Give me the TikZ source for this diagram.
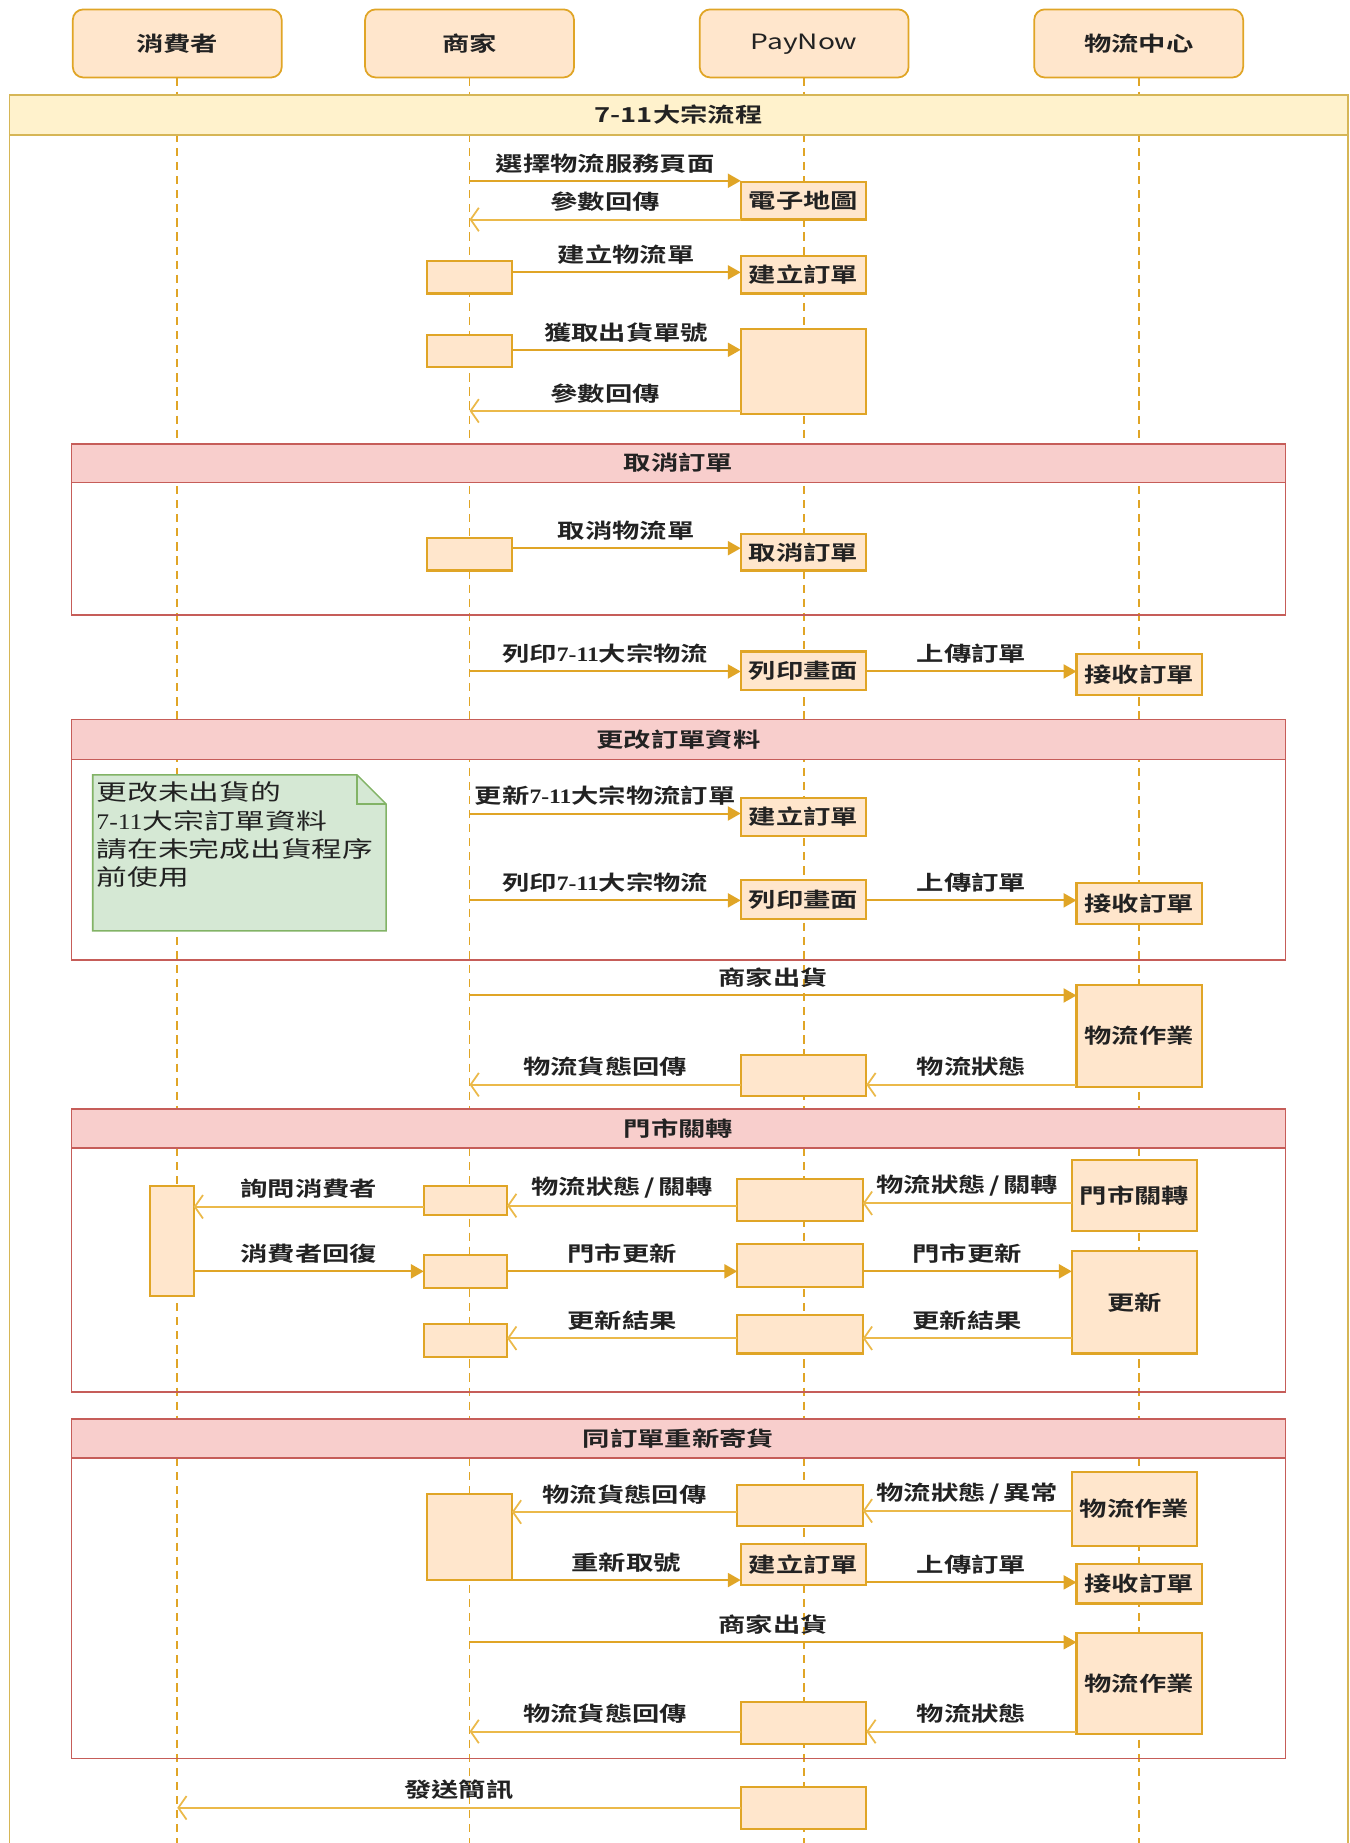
\documentclass[tikz,border=0pt]{standalone}
\usepackage{fontspec}
\usetikzlibrary{arrows.meta}
\newfontfamily\lblfont[FakeStretch=1.33,BoldFont={Noto Sans CJK TC Bold}]{Noto Sans CJK TC}
\newfontfamily\notefont[FakeStretch=1.38]{Noto Sans CJK TC}
\newfontfamily\latn[FakeStretch=1.15]{Liberation Serif}
\newcommand\sev{{\latn 7-11}}
\definecolor{gold}{HTML}{E0A526}
\definecolor{goldret}{HTML}{EBB94A}
\definecolor{actfill}{HTML}{FFE6CC}
\definecolor{mainfill}{HTML}{FFF2CC}
\definecolor{mainline}{HTML}{D6B656}
\definecolor{pinkfill}{HTML}{F8CECC}
\definecolor{pinkline}{HTML}{C65D59}
\definecolor{notefill}{HTML}{D5E8D4}
\definecolor{noteline}{HTML}{82B366}
\definecolor{ink}{HTML}{222222}
\newcommand\bx[7]{\node[#1, minimum width={(#5)-(#3)}, minimum height={(#6)-(#4)}] (#2) at ({((#3)+(#5))/2},{((#4)+(#6))/2}) {#7};}
\begin{document}
\begin{tikzpicture}[x=1pt,y=-1pt,
 lf/.style={font=\lblfont\bfseries\fontsize{17.5}{20}\selectfont, text=ink},
 act/.style={lf, draw=gold, fill=actfill, line width=1.8pt, inner sep=0pt, outer sep=0pt},
 head/.style={act, rounded corners=9pt, line width=1.5pt},
 life/.style={draw=gold, line width=1.5pt, dash pattern=on 7pt off 5pt},
 call/.style={draw=gold, line width=1.7pt, -{Triangle[length=11pt,width=12pt]}},
 ret/.style={draw=goldret, line width=1.7pt, -{Straight Barb[length=7pt,width=20pt,line width=1.5pt]}},
 lbl/.style={lf, inner sep=0pt, midway, yshift=15pt},
 frm/.style={draw=pinkline, line width=1.5pt, inner sep=0pt, outer sep=0pt},
 fhdr/.style={lf, draw=pinkline, fill=pinkfill, line width=1.5pt, inner sep=0pt, outer sep=0pt},
 mhdr/.style={lf, draw=mainline, fill=mainfill, line width=1.5pt, inner sep=0pt, outer sep=0pt},
]
\useasboundingbox (0,0) rectangle (1150,1570);
% heads
\bx{head}{hC}{62}{8}{240}{66}{消費者}
\bx{head}{hM}{311}{8}{489}{66}{商家}
\bx{head, font=\lblfont\fontsize{18}{20}\selectfont, text depth=0pt, text height=10pt}{hP}{596}{8}{774}{66}{PayNow}
\bx{head}{hL}{881}{8}{1059}{66}{物流中心}
% lifelines
\draw[life] (hC.south) -- (hC.south |- 0,1575);
\draw[life] (hM.south) -- (hM.south |- 0,1575);
\draw[life] (hP.south) -- (hP.south |- 0,1575);
\draw[life] (hL.south) -- (hL.south |- 0,1575);
% main frame
\node[draw=mainline, line width=1.5pt, inner sep=0pt, outer sep=0pt, minimum width=1140, minimum height=1540, anchor=north west] (main) at (8,81) {};
\bx{mhdr}{mainh}{8}{81}{1148}{115}{7-11大宗流程}
% part 1
\coordinate (m1) at (400,154);
\bx{act}{pz1}{631}{155}{738}{187}{電子地圖}
\draw[call] (m1) -- (pz1.west |- m1) node[lbl]{選擇物流服務頁面};
\draw[ret] (pz1.south west) -- (pz1.south west -| m1) node[lbl]{參數回傳};
\bx{act}{mb2}{364}{222}{436}{250}{}
\bx{act}{pz2}{631}{218}{738}{250}{建立訂單}
\draw[call] (mb2.east |- 0,232) -- (pz2.west |- 0,232) node[lbl]{建立物流單};
\bx{act}{mb3}{364}{285}{436}{313}{}
\bx{act}{pz3}{631}{280}{738}{353}{}
\draw[call] (mb3.east |- 0,298) -- (pz3.west |- 0,298) node[lbl]{獲取出貨單號};
\draw[ret] (pz3.west |- 0,350) -- (hM.south |- 0,350) node[lbl]{參數回傳};
% 取消訂單
\node[frm, minimum width=1034, minimum height=146, anchor=north west] (f1) at (61,378) {};
\bx{fhdr}{f1h}{61}{378}{1095}{411}{取消訂單}
\bx{act}{mb4}{364}{458}{436}{486}{}
\bx{act}{pz4}{631}{455}{738}{486}{取消訂單}
\draw[call] (mb4.east |- 0,467) -- (pz4.west |- 0,467) node[lbl]{取消物流單};
% 列印
\bx{act}{pz5}{631}{555}{738}{588}{列印畫面}
\bx{act}{lc5}{917}{557}{1024}{592}{接收訂單}
\draw[call] (hM.south |- 0,572) -- (pz5.west |- 0,572) node[lbl]{列印\sev 大宗物流};
\draw[call] (pz5.east |- 0,572) -- (lc5.west |- 0,572) node[lbl]{上傳訂單};
% 更改訂單資料
\node[frm, minimum width=1034, minimum height=205, anchor=north west] (f2) at (61,613) {};
\bx{fhdr}{f2h}{61}{613}{1095}{647}{更改訂單資料}
\draw[draw=noteline, fill=notefill, line width=1.3pt] (79,660) -- (304,660) -- (329,685) -- (329,793) -- (79,793) -- cycle;
\draw[draw=noteline, line width=1.3pt] (304,660) -- (304,685) -- (329,685);
\node[font=\notefont\fontsize{19}{24}\selectfont, text=ink, align=left, anchor=north west, inner sep=0pt] (note) at (82,666) {更改未出貨的\\\sev 大宗訂單資料\\請在未完成出貨程序\\前使用};
\bx{act}{pz6}{631}{680}{738}{712}{建立訂單}
\draw[call] (hM.south |- 0,693) -- (pz6.west |- 0,693) node[lbl]{更新\sev 大宗物流訂單};
\bx{act}{pz7}{631}{750}{738}{783}{列印畫面}
\bx{act}{lc7}{917}{752}{1024}{787}{接收訂單}
\draw[call] (hM.south |- 0,767) -- (pz7.west |- 0,767) node[lbl]{列印\sev 大宗物流};
\draw[call] (pz7.east |- 0,767) -- (lc7.west |- 0,767) node[lbl]{上傳訂單};
% 商家出貨
\bx{act}{lc8}{917}{839}{1024}{926}{物流作業}
\draw[call] (hM.south |- 0,848) -- (lc8.west |- 0,848) node[lbl]{商家出貨};
\bx{act}{pz8}{631}{899}{738}{934}{}
\draw[ret] (lc8.west |- 0,924) -- (pz8.east |- 0,924) node[lbl]{物流狀態};
\draw[ret] (pz8.west |- 0,924) -- (hM.south |- 0,924) node[lbl]{物流貨態回傳};
% 門市關轉
\node[frm, minimum width=1034, minimum height=241, anchor=north west] (f3) at (61,945) {};
\bx{fhdr}{f3h}{61}{945}{1095}{978}{門市關轉}
\bx{act}{cc9}{128}{1010}{165}{1104}{}
\bx{act}{mb9}{361}{1010}{432}{1035}{}
\bx{act}{pz9}{628}{1004}{735}{1040}{}
\bx{act}{lc9}{913}{988}{1020}{1049}{門市關轉}
\draw[ret] (lc9.west |- 0,1025) -- (pz9.east |- 0,1025) node[lbl]{物流狀態\,/\,關轉};
\draw[ret] (pz9.west |- 0,1027) -- (mb9.east |- 0,1027) node[lbl]{物流狀態\,/\,關轉};
\draw[ret] (mb9.west |- 0,1028) -- (cc9.east |- 0,1028) node[lbl]{詢問消費者};
\bx{act}{mb10}{361}{1069}{432}{1097}{}
\bx{act}{pz10}{628}{1060}{735}{1096}{}
\bx{act}{lc10}{913}{1066}{1020}{1153}{更新}
\draw[call] (cc9.east |- 0,1083) -- (mb10.west |- 0,1083) node[lbl]{消費者回復};
\draw[call] (mb10.east |- 0,1083) -- (pz10.west |- 0,1083) node[lbl]{門市更新};
\draw[call] (pz10.east |- 0,1083) -- (lc10.west |- 0,1083) node[lbl]{門市更新};
\bx{act}{mb11}{361}{1128}{432}{1156}{}
\bx{act}{pz11}{628}{1120}{735}{1153}{}
\draw[ret] (lc10.west |- 0,1140) -- (pz11.east |- 0,1140) node[lbl]{更新結果};
\draw[ret] (pz11.west |- 0,1140) -- (mb11.east |- 0,1140) node[lbl]{更新結果};
% 同訂單重新寄貨
\node[frm, minimum width=1034, minimum height=289, anchor=north west] (f4) at (61,1209) {};
\bx{fhdr}{f4h}{61}{1209}{1095}{1242}{同訂單重新寄貨}
\bx{act}{mb12}{364}{1273}{436}{1346}{}
\bx{act}{pz12}{628}{1265}{735}{1300}{}
\bx{act}{lc12}{913}{1254}{1020}{1317}{物流作業}
\draw[ret] (lc12.west |- 0,1287) -- (pz12.east |- 0,1287) node[lbl]{物流狀態\,/\,異常};
\draw[ret] (pz12.west |- 0,1288) -- (mb12.east |- 0,1288) node[lbl]{物流貨態回傳};
\bx{act}{pz13}{631}{1315}{738}{1350}{建立訂單}
\bx{act}{lc13}{917}{1332}{1024}{1366}{接收訂單}
\draw[call] (mb12.south east) -- (pz13.west |- mb12.south east) node[lbl]{重新取號};
\draw[call] (pz13.east |- 0,1348) -- (lc13.west |- 0,1348) node[lbl]{上傳訂單};
\bx{act}{lc14}{917}{1391}{1024}{1477}{物流作業}
\draw[call] (hM.south |- 0,1399) -- (lc14.west |- 0,1399) node[lbl]{商家出貨};
\bx{act}{pz14}{631}{1450}{738}{1486}{}
\draw[ret] (lc14.west |- 0,1475) -- (pz14.east |- 0,1475) node[lbl]{物流狀態};
\draw[ret] (pz14.west |- 0,1475) -- (hM.south |- 0,1475) node[lbl]{物流貨態回傳};
% 發送簡訊
\bx{act}{pz15}{631}{1522}{738}{1558}{}
\draw[ret] (pz15.west |- 0,1540) -- (hC.south |- 0,1540) node[lbl]{發送簡訊};
\end{tikzpicture}
\end{document}
